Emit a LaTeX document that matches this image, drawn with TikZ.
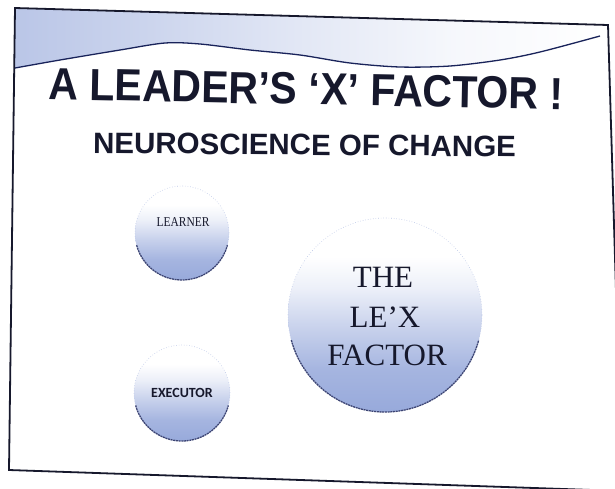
\documentclass[tikz,border=0pt]{standalone}
\usepackage{fontspec}
\setmainfont{Liberation Serif}
\newfontfamily\arialfont{Liberation Sans}
\newfontfamily\calfont{Carlito}
\definecolor{stip}{RGB}{140,160,215}
\definecolor{ink}{RGB}{22,24,44}
\definecolor{navy}{RGB}{25,35,90}
\pgfdeclarehorizontalshading{bandfade}{100bp}{color(0bp)=(stip!60!white); color(25bp)=(stip!60!white); color(36bp)=(stip!45!white); color(49bp)=(stip!25!white); color(62bp)=(stip!8!white); color(75bp)=(white); color(100bp)=(white)}
\pgfdeclareverticalshading{ballfade}{100bp}{color(0bp)=(stip!90!white); color(25bp)=(stip!90!white); color(36bp)=(stip!78!white); color(46bp)=(stip!50!white); color(57bp)=(stip!16!white); color(65bp)=(white); color(100bp)=(white)}
\begin{document}
\begin{tikzpicture}[x=1pt,y=1pt,
  ball/.style={circle, inner sep=0pt, outer sep=0pt, shade, shading=ballfade, draw=stip!60, line width=0.6pt, dotted},
  rim/.style={draw=navy!85, line width=1.3pt, dash pattern=on 2pt off 0.7pt},
  frameline/.style={draw=ink, line width=1.8pt, line join=miter},
  waveline/.style={draw=navy, line width=1.3pt},
  titletext/.style={text=ink, inner sep=0pt, anchor=base, font=\arialfont\bfseries\fontsize{45}{50}\selectfont},
  subtext/.style={text=ink, inner sep=0pt, anchor=base, font=\arialfont\bfseries\fontsize{29.5}{34}\selectfont},
  lextext/.style={text=ink, inner sep=0pt, anchor=base, font=\fontsize{31}{36}\selectfont},
  smalllabel/.style={text=ink, inner sep=0pt}
]
\useasboundingbox (0,0) rectangle (615,-488);
\clip (0,0) rectangle (615,-488);
\fill[white] (0,0) rectangle (615,-488);

% top stippled band and wave
\shade[shading=bandfade] (15,-8) -- (607,-25) -- (600,-36)
  -- plot[smooth] coordinates {(600,-36) (540,-52) (500,-60) (450,-66) (400,-67) (350,-63) (300,-55) (250,-50) (200,-44) (165,-43) (120,-50) (60,-60) (15,-68)} -- cycle;
\draw[waveline] plot[smooth] coordinates {(15,-68) (60,-60) (120,-50) (165,-43) (200,-44) (250,-50) (300,-55) (350,-63) (400,-67) (450,-66) (500,-60) (540,-52) (600,-36)};

% frame
\draw[frameline] (15,-8) -- (608,-25) -- (622,-491) -- (9,-470) -- cycle;

% titles
\node[titletext, rotate=-1.1] (title) at (306,-104.5) {\scalebox{0.913}[1]{A LEADER’S ‘X’ FACTOR !}};
\node[subtext, rotate=-0.5] (subtitle) at (304.5,-155) {NEUROSCIENCE OF CHANGE};

% circles
\node[ball, minimum size=94pt] (learner) at (182,-233) {};
\node[ball, minimum size=96pt] (executor) at (182,-393) {};
\node[ball, minimum size=194pt] (lex) at (385,-315) {};
\draw[rim] (learner.195) arc[start angle=195, end angle=345, radius=47];
\draw[rim] (executor.195) arc[start angle=195, end angle=345, radius=48];
\draw[rim] (lex.195) arc[start angle=195, end angle=345, radius=97];

% circle labels
\node[smalllabel, font=\fontsize{13.5}{15}\selectfont] (learnerlabel) at (183,-222) {\scalebox{0.85}[1]{LEARNER}};
\node[smalllabel, font=\calfont\bfseries\fontsize{14}{16}\selectfont] (executorlabel) at (182,-393) {EXECUTOR};
\node[lextext] (lexa) at (383,-287) {THE};
\node[lextext] (lexb) at (385,-327) {LE’X};
\node[lextext] (lexc) at (387,-365) {FACTOR};
\end{tikzpicture}
\end{document}
